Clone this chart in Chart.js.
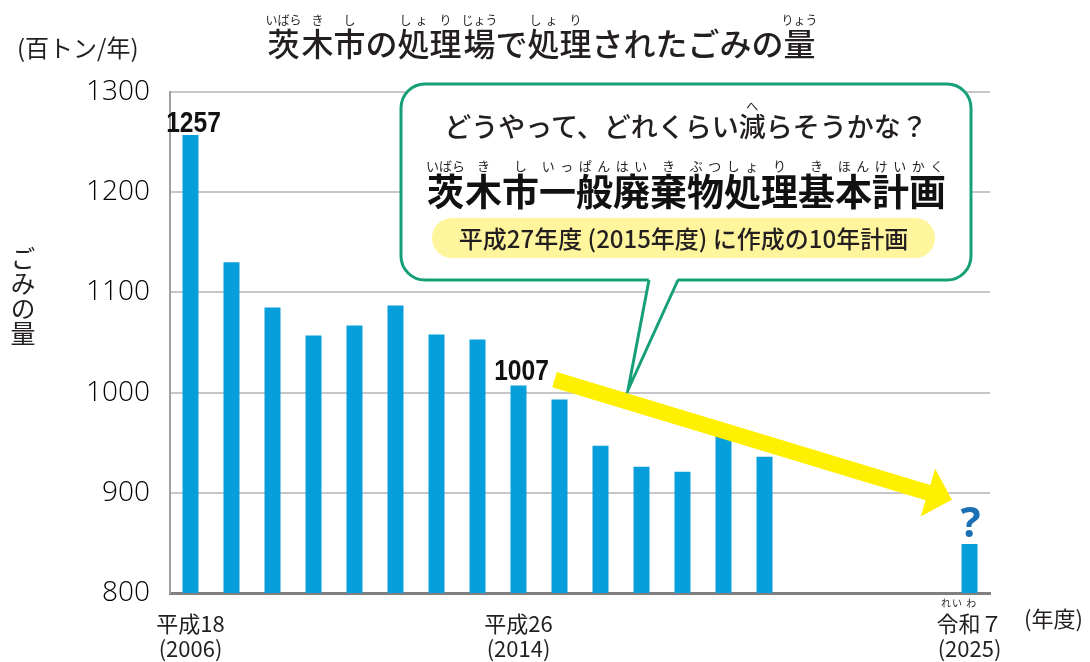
<!DOCTYPE html>
<html>
<head>
<meta charset="utf-8">
<script src="https://cdn.jsdelivr.net/npm/chart.js@4.4.1/dist/chart.umd.min.js"></script>
<style>
body { margin: 0; background: #fff; }
#wrap { position: relative; width: 1090px; height: 662px; overflow: hidden;
  font-family: "Noto Sans CJK JP", "Noto Sans", sans-serif; color: #231f20; }
#chart { position: absolute; left: 0; top: 0; }
.t { position: absolute; white-space: nowrap; line-height: 1; }
rt { font-weight: 400; color: #231f20; }
#title { left: 0; width: 1083px; top: 14px; text-align: center; font-size: 32px; font-weight: 500; }
#title rt { font-size: 12px; }
#unit { left: 17px; top: 35px; font-size: 24px; }
#yname { left: 10px; top: 246px; font-size: 25px; writing-mode: vertical-rl; line-height: 26px; }
#xunit { left: 1024px; top: 606px; font-size: 22px; }
#reiwa { left: 941px; top: 598px; font-size: 10px; letter-spacing: 1px; }
#q1 { left: 400px; width: 572px; top: 100px; text-align: center; font-size: 27px; font-weight: 500; }
#q1 rt { font-size: 12px; }
#plan { left: 400px; width: 572px; top: 159px; text-align: center; font-size: 37px; font-weight: 700; color: #111; }
#plan rt { font-size: 13px; }
#pill { left: 432px; width: 503px; top: 218px; height: 40px; border-radius: 20px; background: #fff59c;
  text-align: center; font-size: 24px; font-weight: 500; line-height: 40px; }
</style>
</head>
<body>
<div id="wrap">
  <canvas id="chart" width="1090" height="662"></canvas>
  <div class="t" id="title"><ruby>茨<rt>いばら</rt></ruby><ruby>木<rt>き</rt></ruby><ruby>市<rt>し</rt></ruby>の<ruby>処<rt>しょ</rt></ruby><ruby>理<rt>り</rt></ruby><ruby>場<rt>じょう</rt></ruby>で<ruby>処<rt>しょ</rt></ruby><ruby>理<rt>り</rt></ruby>されたごみの<ruby>量<rt>りょう</rt></ruby></div>
  <div class="t" id="unit">(百トン/年)</div>
  <div class="t" id="yname">ごみの量</div>
  <div class="t" id="xunit">(年度)</div>
  <div class="t" id="reiwa">れい わ</div>
  <div class="t" id="q1">どうやって、どれくらい<ruby>減<rt>へ</rt></ruby>らそうかな？</div>
  <div class="t" id="plan"><ruby>茨<rt>いばら</rt></ruby><ruby>木<rt>き</rt></ruby><ruby>市<rt>し</rt></ruby><ruby>一<rt>いっ</rt></ruby><ruby>般<rt>ぱん</rt></ruby><ruby>廃<rt>はい</rt></ruby><ruby>棄<rt>き</rt></ruby><ruby>物<rt>ぶつ</rt></ruby><ruby>処<rt>しょ</rt></ruby><ruby>理<rt>り</rt></ruby><ruby>基<rt>き</rt></ruby><ruby>本<rt>ほん</rt></ruby><ruby>計<rt>けい</rt></ruby><ruby>画<rt>かく</rt></ruby></div>
  <div class="t" id="pill">平成27年度 (2015年度) に作成の10年計画</div>
</div>
<script>
// fiscal years on the x axis
var years = ['2006', '2007', '2008', '2009', '2010', '2011', '2012', '2013', '2014', '2015',
             '2016', '2017', '2018', '2019', '2020', '2021', '2022', '2023', '2024', '2025'];

// waste processed (hundred tons / year); 2021-2024 not shown, 2025 is the target
var amounts = [1257, 1130, 1085, 1057, 1067, 1087, 1058, 1053, 1007, 993,
               947, 926, 921, 958, 936, null, null, null, null, 849];

// which categories get a label under the axis
var tickIndexes = [0, 8, 19];
var tickTexts = [['平成18', '(2006)'], ['平成26', '(2014)'], ['令和７', '(2025)']];

// bars that carry a value label, and the one with the question mark
var valueLabelIndexes = [0, 8];
var questionIndex = 19;

// trend arrow, in (category index, value) terms
var arrowFrom = [8.88, 1013];
var arrowTo = [18.57, 893];

var yMin = 800, yMax = 1300, yStep = 100;

var BAR_BLUE = '#079fdb';
var YELLOW = '#fff000';
var GREEN = '#17a078';


var drawArrow_ = function(ctx, x0, y0, x1, y1) {
  var dx = x1 - x0, dy = y1 - y0;
  var len = Math.sqrt(dx * dx + dy * dy);
  var ux = dx / len, uy = dy / len;
  var nx = -uy, ny = ux;
  var half = 8, headLen = 25, headHalf = 25;
  var bx = x1 - ux * headLen, by = y1 - uy * headLen;
  ctx.save();
  ctx.fillStyle = YELLOW;
  ctx.beginPath();
  ctx.moveTo(x0 + nx * half, y0 + ny * half);
  ctx.lineTo(bx + nx * half, by + ny * half);
  ctx.lineTo(bx + nx * headHalf, by + ny * headHalf);
  ctx.lineTo(x1, y1);
  ctx.lineTo(bx - nx * headHalf, by - ny * headHalf);
  ctx.lineTo(bx - nx * half, by - ny * half);
  ctx.lineTo(x0 - nx * half, y0 - ny * half);
  ctx.closePath();
  ctx.fill();
  ctx.restore();
};


var drawCallout_ = function(ctx) {
  ctx.save();
  ctx.lineWidth = 3;
  ctx.strokeStyle = GREEN;
  ctx.fillStyle = '#fff';
  ctx.beginPath();
  ctx.roundRect(401, 84, 570, 196, 24);
  ctx.fill();
  ctx.stroke();
  // speech tail
  ctx.beginPath();
  ctx.moveTo(649, 278);
  ctx.lineTo(628, 390);
  ctx.lineTo(678, 278);
  ctx.closePath();
  ctx.fill();
  ctx.beginPath();
  ctx.moveTo(649, 280);
  ctx.lineTo(628, 390);
  ctx.lineTo(678, 280);
  ctx.stroke();
  ctx.restore();
};


var overlayPlugin = {
  id: 'overlay',
  afterDatasetsDraw: function(chart) {
    var ctx = chart.ctx;
    var xs = chart.scales.x, ys = chart.scales.y;

    drawCallout_(ctx);
    drawArrow_(ctx,
        xs.getPixelForValue(arrowFrom[0]), ys.getPixelForValue(arrowFrom[1]),
        xs.getPixelForValue(arrowTo[0]), ys.getPixelForValue(arrowTo[1]));

    // bold condensed value labels
    ctx.save();
    ctx.fillStyle = '#111';
    ctx.textAlign = 'center';
    ctx.textBaseline = 'alphabetic';
    ctx.font = 'bold 30px "Liberation Sans", Arial, sans-serif';
    for (var i = 0; i < valueLabelIndexes.length; i++) {
      var idx = valueLabelIndexes[i];
      var px = xs.getPixelForValue(idx) + 3;
      var py = ys.getPixelForValue(amounts[idx]) - (idx === 0 ? 3 : 6);
      ctx.save();
      ctx.translate(px, py);
      ctx.scale(0.82, 1);
      ctx.fillText(String(amounts[idx]), 0, 0);
      ctx.restore();
    }
    ctx.fillStyle = '#1b6fb5';
    ctx.font = 'bold 42px "Noto Sans", sans-serif';
    ctx.fillText('?', xs.getPixelForValue(questionIndex) + 1,
        ys.getPixelForValue(amounts[questionIndex]) - 7);
    ctx.restore();
  }
};


new Chart(document.getElementById('chart'), {
  type: 'bar',
  data: {
    labels: years,
    datasets: [{
      data: amounts,
      backgroundColor: BAR_BLUE,
      barPercentage: 0.39,
      categoryPercentage: 1.0,
    }],
  },
  options: {
    responsive: false,
    animation: false,
    layout: {
      padding: {left: 0, right: 100, top: 92, bottom: 0},
    },
    plugins: {
      legend: {display: false},
      tooltip: {enabled: false},
    },
    scales: {
      x: {
        grid: {display: false, drawTicks: false},
        border: {display: true, color: '#808080', width: 3},
        ticks: {
          autoSkip: false,
          maxRotation: 0,
          padding: 18,
          color: '#231f20',
          font: {family: '"Noto Sans CJK JP", sans-serif', size: 22, lineHeight: 1.13},
          callback: function(value, index) {
            var k = tickIndexes.indexOf(index);
            return k < 0 ? '' : tickTexts[k];
          },
        },
        afterFit: function(scale) { scale.height = 69; },
      },
      y: {
        min: yMin,
        max: yMax,
        grid: {color: '#c6c6ca', lineWidth: 2, drawTicks: false},
        border: {display: true, color: '#a0a0a0', width: 2},
        ticks: {
          stepSize: yStep,
          padding: 20,
          color: '#000',
          font: {family: '"Open Sans", "Noto Sans", sans-serif', size: 28, weight: 300},
          callback: function(value) { return String(value); },
        },
        afterFit: function(scale) { scale.width = 170; },
      },
    },
  },
  plugins: [overlayPlugin],
});
</script>
</body>
</html>
